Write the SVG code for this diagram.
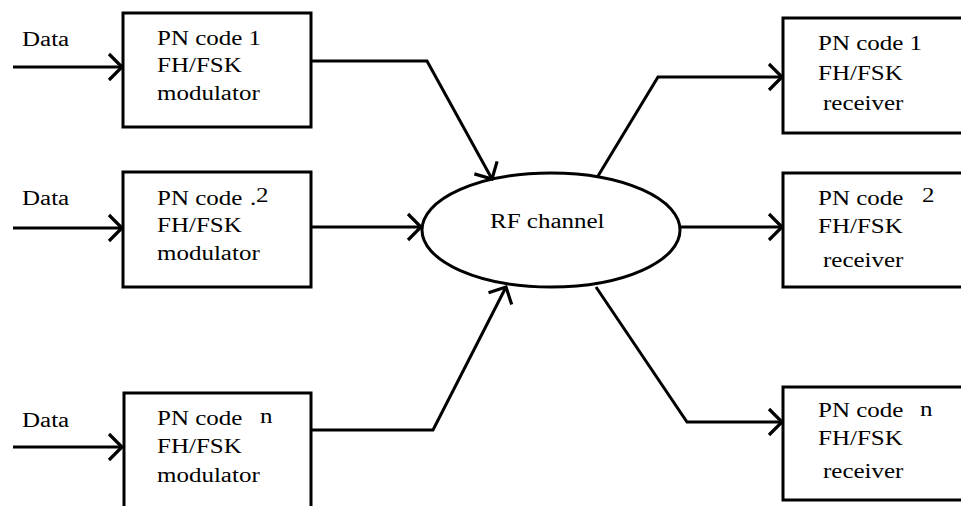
<svg xmlns="http://www.w3.org/2000/svg" width="961" height="506" viewBox="0 0 961 506">
  <style>
    .box { fill: #fff; stroke: #000; stroke-width: 3; }
    .wire { fill: none; stroke: #000; stroke-width: 3; stroke-linejoin: miter; }
    .arr { marker-end: url(#open); }
    .t { font-family: 'Liberation Serif', 'Times New Roman', serif; font-size: 20px; fill: #000; }
  </style>
  <defs>
    <marker id="open" markerUnits="userSpaceOnUse" markerWidth="24" markerHeight="30" viewBox="-16 -15 20 30" refX="0" refY="0" orient="auto">
      <path d="M-13,-13 L0,0 L-13,13" fill="none" stroke="#000" stroke-width="3.2" stroke-linecap="butt"/>
    </marker>
  </defs>

  <!-- transmitters; labels are drawn wide (x1.25) -->
  <g id="mod1">
    <rect class="box" x="123" y="13" width="188" height="114"/>
    <text class="t" transform="translate(157,45) scale(1.25,1)">PN code 1</text>
    <text class="t" transform="translate(157,72) scale(1.25,1)">FH/FSK</text>
    <text class="t" transform="translate(157,100) scale(1.25,1)">modulator</text>
  </g>
  <g id="mod2">
    <rect class="box" x="123" y="172" width="188" height="115"/>
    <text class="t" transform="translate(157,205) scale(1.25,1)">PN code</text>
    <text class="t" transform="translate(250,205) scale(1.25,1)">.</text>
    <text class="t" transform="translate(256,202) scale(1.25,1)">2</text>
    <text class="t" transform="translate(157,232) scale(1.25,1)">FH/FSK</text>
    <text class="t" transform="translate(157,260) scale(1.25,1)">modulator</text>
  </g>
  <g id="modn">
    <rect class="box" x="124" y="393" width="187" height="130"/>
    <text class="t" transform="translate(157,425) scale(1.25,1)">PN code</text>
    <text class="t" transform="translate(260,423) scale(1.25,1)">n</text>
    <text class="t" transform="translate(157,453) scale(1.25,1)">FH/FSK</text>
    <text class="t" transform="translate(157,482) scale(1.25,1)">modulator</text>
  </g>

  <!-- channel -->
  <g id="channel">
    <ellipse class="box" cx="551" cy="230" rx="129" ry="57"/>
    <text class="t" transform="translate(490,228) scale(1.25,1)">RF channel</text>
  </g>

  <!-- receivers (open on the right edge) -->
  <g id="rx1">
    <rect class="box" x="783" y="18" width="190" height="115"/>
    <text class="t" transform="translate(818,50) scale(1.25,1)">PN code 1</text>
    <text class="t" transform="translate(818,80) scale(1.25,1)">FH/FSK</text>
    <text class="t" transform="translate(823,110) scale(1.25,1)">receiver</text>
  </g>
  <g id="rx2">
    <rect class="box" x="783" y="173" width="190" height="114"/>
    <text class="t" transform="translate(818,205) scale(1.25,1)">PN code</text>
    <text class="t" transform="translate(922,202) scale(1.25,1)">2</text>
    <text class="t" transform="translate(818,233) scale(1.25,1)">FH/FSK</text>
    <text class="t" transform="translate(823,267) scale(1.25,1)">receiver</text>
  </g>
  <g id="rxn">
    <rect class="box" x="783" y="387" width="190" height="113"/>
    <text class="t" transform="translate(818,417) scale(1.25,1)">PN code</text>
    <text class="t" transform="translate(920,416) scale(1.25,1)">n</text>
    <text class="t" transform="translate(818,445) scale(1.25,1)">FH/FSK</text>
    <text class="t" transform="translate(823,478) scale(1.25,1)">receiver</text>
  </g>

  <!-- data inputs -->
  <g id="inputs">
    <text class="t" transform="translate(22,46) scale(1.25,1)">Data</text>
    <text class="t" transform="translate(22,205) scale(1.25,1)">Data</text>
    <text class="t" transform="translate(22,427) scale(1.25,1)">Data</text>
  </g>

  <g id="connectors">
    <path class="wire arr" d="M13,67 H122"/>
    <path class="wire arr" d="M13,228 H122"/>
    <path class="wire arr" d="M13,447 H122"/>

    <path class="wire arr" d="M311,61 H427 L492,179"/>
    <path class="wire arr" d="M311,227 H421"/>
    <path class="wire arr" d="M311,430 H433 L506,287"/>

    <path class="wire arr" d="M598,176 L658,77 H782"/>
    <path class="wire arr" d="M680,227 H782"/>
    <path class="wire arr" d="M596,287 L687,422 H782"/>
  </g>
</svg>
